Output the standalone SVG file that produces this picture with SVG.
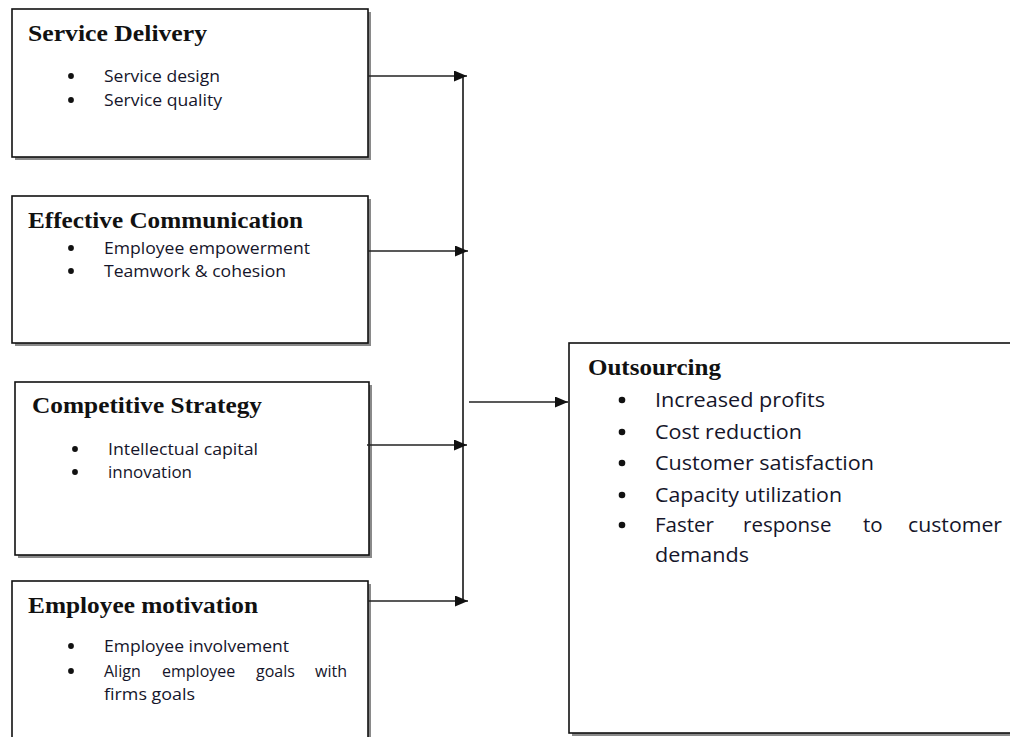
<svg xmlns="http://www.w3.org/2000/svg" width="1010" height="737" viewBox="0 0 1010 737">
<style>
.box{fill:#fff;stroke:#111;stroke-width:1.6}
.shadow{fill:#8a8a8a}
.title{font-family:"Liberation Serif","Times New Roman",serif;font-weight:bold;font-size:23px;fill:#111}
.item{font-family:"Open Sans","Noto Sans",sans-serif;font-size:16px;fill:#15152a}
.oitem{font-family:"Open Sans","Noto Sans",sans-serif;font-size:20.5px;fill:#15152a}
.bul{fill:#111}
.conn{stroke:#222;stroke-width:1.6;fill:none}
.vline{stroke:#444;stroke-width:2;fill:none}
</style>
<defs>
<marker id="arrow" markerUnits="userSpaceOnUse" markerWidth="13" markerHeight="11" refX="13" refY="5.5" orient="auto">
<path d="M0,0 L13,5.5 L0,11 z" fill="#111"/>
</marker>
</defs>
<rect width="1010" height="737" fill="#fff"/>

<g id="service-delivery">
<rect class="shadow" x="15" y="12" width="356" height="148"/>
<rect class="box" x="12" y="9" width="356" height="148"/>
<text class="title" x="28" y="41" textLength="179" lengthAdjust="spacingAndGlyphs">Service Delivery</text>
<circle class="bul" cx="71" cy="76" r="2.9"/>
<text class="item" x="104" y="82" textLength="116" lengthAdjust="spacingAndGlyphs">Service design</text>
<circle class="bul" cx="71" cy="100" r="2.9"/>
<text class="item" x="104" y="106" textLength="118" lengthAdjust="spacingAndGlyphs">Service quality</text>
</g>

<g id="effective-communication">
<rect class="shadow" x="15" y="199" width="356" height="147"/>
<rect class="box" x="12" y="196" width="356" height="147"/>
<text class="title" x="28" y="228" textLength="275" lengthAdjust="spacingAndGlyphs">Effective Communication</text>
<circle class="bul" cx="71" cy="248" r="2.9"/>
<text class="item" x="104" y="254" textLength="206" lengthAdjust="spacingAndGlyphs">Employee empowerment</text>
<circle class="bul" cx="71" cy="271" r="2.9"/>
<text class="item" x="104" y="277" textLength="182" lengthAdjust="spacingAndGlyphs">Teamwork &amp; cohesion</text>
</g>

<g id="competitive-strategy">
<rect class="shadow" x="18" y="385" width="354" height="173"/>
<rect class="box" x="15" y="382" width="354" height="173"/>
<text class="title" x="32" y="413" textLength="230" lengthAdjust="spacingAndGlyphs">Competitive Strategy</text>
<circle class="bul" cx="75" cy="449" r="2.9"/>
<text class="item" x="108" y="455" textLength="150" lengthAdjust="spacingAndGlyphs">Intellectual capital</text>
<circle class="bul" cx="75" cy="472" r="2.9"/>
<text class="item" x="108" y="478" textLength="84" lengthAdjust="spacingAndGlyphs">innovation</text>
</g>

<g id="employee-motivation">
<rect class="shadow" x="15" y="584" width="356" height="170"/>
<rect class="box" x="12" y="581" width="356" height="170"/>
<text class="title" x="28" y="613" textLength="230" lengthAdjust="spacingAndGlyphs">Employee motivation</text>
<circle class="bul" cx="71" cy="646" r="2.9"/>
<text class="item" x="104" y="652" textLength="185" lengthAdjust="spacingAndGlyphs">Employee involvement</text>
<circle class="bul" cx="71" cy="671" r="2.9"/>
<text class="item" y="677"><tspan x="104">Align</tspan><tspan x="162">employee</tspan><tspan x="256">goals</tspan><tspan x="315">with</tspan></text>
<text class="item" x="104" y="700" textLength="91" lengthAdjust="spacingAndGlyphs">firms goals</text>
</g>

<g id="outsourcing">
<rect class="shadow" x="572" y="346" width="450" height="390"/>
<rect class="box" x="569" y="343" width="450" height="390"/>
<text class="title" x="588" y="375" textLength="133" lengthAdjust="spacingAndGlyphs">Outsourcing</text>
<circle class="bul" cx="622" cy="400" r="3.3"/>
<text class="oitem" x="655" y="407" textLength="170" lengthAdjust="spacingAndGlyphs">Increased profits</text>
<circle class="bul" cx="622" cy="432" r="3.3"/>
<text class="oitem" x="655" y="439" textLength="147" lengthAdjust="spacingAndGlyphs">Cost reduction</text>
<circle class="bul" cx="622" cy="463" r="3.3"/>
<text class="oitem" x="655" y="470" textLength="219" lengthAdjust="spacingAndGlyphs">Customer satisfaction</text>
<circle class="bul" cx="622" cy="495" r="3.3"/>
<text class="oitem" x="655" y="502" textLength="187" lengthAdjust="spacingAndGlyphs">Capacity utilization</text>
<circle class="bul" cx="622" cy="525" r="3.3"/>
<text class="oitem" y="532"><tspan x="655">Faster</tspan><tspan x="743">response</tspan><tspan x="863">to</tspan><tspan x="908" textLength="94" lengthAdjust="spacingAndGlyphs">customer</tspan></text>
<text class="oitem" x="655" y="562" textLength="94" lengthAdjust="spacingAndGlyphs">demands</text>
</g>

<g id="connectors">
<path class="vline" d="M463,76 L463,601"/>
<path class="conn" d="M368,76 L467,76" marker-end="url(#arrow)"/>
<path class="conn" d="M368,251 L468,251" marker-end="url(#arrow)"/>
<path class="conn" d="M367,445 L467,445" marker-end="url(#arrow)"/>
<path class="conn" d="M368,601 L468,601" marker-end="url(#arrow)"/>
<path class="conn" d="M469,402 L568,402" marker-end="url(#arrow)"/>
</g>
</svg>
